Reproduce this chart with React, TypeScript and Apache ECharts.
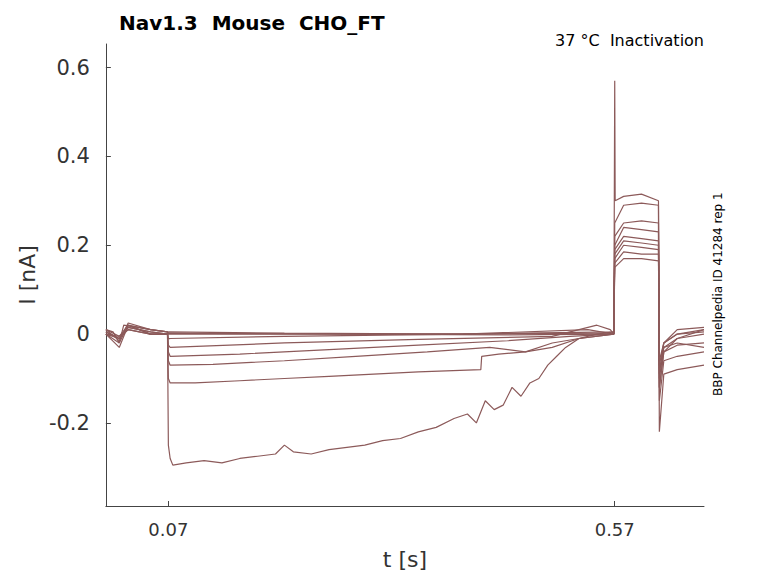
import { useEffect, useRef } from 'react';
import * as echarts from 'echarts';

// each trace: [t (s), I (nA)]
const trace1: [number, number][] = [
  [0, 0.01], [0.008, 0.005], [0.015, -0.02], [0.02, 0.02], [0.035, 0.015], [0.05, 0.01], [0.069, 0.005],
  [0.07, -0.25], [0.072, -0.28], [0.075, -0.295], [0.09, -0.29], [0.11, -0.285], [0.13, -0.29],
  [0.15, -0.28], [0.17, -0.275], [0.19, -0.27], [0.2, -0.25], [0.21, -0.265], [0.23, -0.27],
  [0.25, -0.26], [0.27, -0.255], [0.29, -0.25], [0.31, -0.24], [0.33, -0.235], [0.35, -0.22],
  [0.37, -0.21], [0.39, -0.19], [0.405, -0.18], [0.415, -0.2], [0.425, -0.15], [0.435, -0.17],
  [0.445, -0.16], [0.455, -0.12], [0.465, -0.14], [0.475, -0.11], [0.485, -0.1], [0.495, -0.07],
  [0.505, -0.05], [0.515, -0.03], [0.53, -0.01], [0.55, 0.0], [0.569, 0.005],
  [0.57, 0.57], [0.5705, 0.3], [0.58, 0.31], [0.6, 0.315], [0.619, 0.3],
  [0.62, -0.12], [0.625, -0.04], [0.64, -0.01], [0.67, 0.01],
];
const trace2: [number, number][] = [
  [0, 0.0], [0.015, -0.03], [0.025, 0.02], [0.05, 0.0], [0.069, 0.0],
  [0.07, -0.1], [0.072, -0.11], [0.1, -0.11], [0.15, -0.105], [0.2, -0.1], [0.25, -0.095],
  [0.3, -0.09], [0.35, -0.085], [0.42, -0.08], [0.421, -0.05], [0.44, -0.045], [0.47, -0.04],
  [0.5, -0.03], [0.53, -0.01], [0.569, 0.0],
  [0.57, 0.25], [0.58, 0.29], [0.6, 0.295], [0.619, 0.29],
  [0.62, -0.22], [0.625, -0.09], [0.64, -0.08], [0.67, -0.07],
];
const trace3: [number, number][] = [
  [0, 0.01], [0.015, -0.015], [0.025, 0.025], [0.05, 0.01], [0.069, 0.005],
  [0.07, -0.06], [0.072, -0.07], [0.12, -0.068], [0.2, -0.06], [0.28, -0.05], [0.36, -0.04],
  [0.43, -0.03], [0.47, -0.04], [0.5, -0.02], [0.53, -0.01], [0.569, 0.0],
  [0.57, 0.22], [0.58, 0.25], [0.6, 0.255], [0.619, 0.25],
  [0.62, -0.15], [0.625, -0.06], [0.64, -0.05], [0.67, -0.04],
];
const trace4: [number, number][] = [
  [0, 0.0], [0.015, -0.02], [0.025, 0.02], [0.05, 0.0], [0.069, 0.0],
  [0.07, -0.04], [0.072, -0.05], [0.15, -0.045], [0.25, -0.035], [0.35, -0.025], [0.45, -0.015],
  [0.52, -0.005], [0.569, 0.0],
  [0.57, 0.2], [0.58, 0.24], [0.6, 0.235], [0.619, 0.23],
  [0.62, -0.12], [0.625, -0.04], [0.64, -0.025], [0.67, -0.02],
];
const trace5: [number, number][] = [
  [0, 0.005], [0.015, -0.01], [0.025, 0.015], [0.05, 0.005], [0.069, 0.0],
  [0.07, -0.025], [0.072, -0.03], [0.2, -0.02], [0.35, -0.012], [0.5, -0.005], [0.55, 0.02],
  [0.565, 0.01], [0.569, 0.0],
  [0.57, 0.19], [0.58, 0.22], [0.6, 0.215], [0.619, 0.21],
  [0.62, -0.1], [0.625, -0.03], [0.64, -0.01], [0.67, 0.0],
];
const trace6: [number, number][] = [
  [0, 0.01], [0.015, -0.005], [0.025, 0.02], [0.05, 0.01], [0.069, 0.005],
  [0.07, -0.01], [0.072, -0.01], [0.2, -0.005], [0.4, 0.0], [0.54, 0.01], [0.569, 0.0],
  [0.57, 0.18], [0.58, 0.21], [0.6, 0.205], [0.619, 0.2],
  [0.62, -0.09], [0.625, -0.02], [0.64, 0.0], [0.67, 0.01],
];
const trace7: [number, number][] = [
  [0, 0.0], [0.015, -0.01], [0.025, 0.01], [0.05, 0.0], [0.069, 0.0],
  [0.07, 0.005], [0.2, 0.002], [0.4, 0.0], [0.569, 0.005],
  [0.57, 0.17], [0.58, 0.2], [0.6, 0.195], [0.619, 0.19],
  [0.62, -0.08], [0.625, -0.03], [0.64, -0.02], [0.67, -0.03],
];
const trace8: [number, number][] = [
  [0, 0.005], [0.015, -0.01], [0.025, 0.015], [0.05, 0.005], [0.069, 0.0],
  [0.07, 0.0], [0.25, 0.0], [0.45, -0.002], [0.569, 0.0],
  [0.57, 0.16], [0.58, 0.185], [0.6, 0.18], [0.619, 0.18],
  [0.62, -0.07], [0.625, -0.02], [0.64, 0.01], [0.67, 0.015],
];
const trace9: [number, number][] = [
  [0, 0.0], [0.015, -0.005], [0.025, 0.01], [0.05, 0.0], [0.069, 0.0],
  [0.07, 0.002], [0.3, 0.0], [0.569, 0.002],
  [0.57, 0.15], [0.58, 0.17], [0.6, 0.17], [0.619, 0.165],
  [0.62, -0.06], [0.625, -0.02], [0.64, 0.0], [0.67, 0.005],
];
const traces = [trace1, trace2, trace3, trace4, trace5, trace6, trace7, trace8, trace9];

const xTicks = [0.07, 0.57];
const yTicks = [-0.2, 0, 0.2, 0.4, 0.6];
const lineColor = '#8c5a5a';

export default function App() {
  const divRef = useRef<HTMLDivElement>(null);

  useEffect(() => {
    if (!divRef.current) return;
    const chart = echarts.init(divRef.current, null, { renderer: 'svg' });
    chart.setOption({
      animation: false,
      backgroundColor: '#fff',
      title: {
        text: 'Nav1.3  Mouse  CHO_FT',
        left: 106,
        top: 0,
        textStyle: { fontFamily: 'DejaVu Sans', fontSize: 20, fontWeight: 'bold', color: '#000' },
      },
      graphic: [
        {
          type: 'text', right: 66, top: 24,
          style: { text: '37 °C  Inactivation', font: '16px "DejaVu Sans"', fill: '#000' },
        },
        {
          type: 'text', x: 704, y: 388, rotation: Math.PI / 2,
          style: { text: 'BBP Channelpedia ID 41284 rep 1', font: '12px "DejaVu Sans"', fill: '#000' },
        },
      ],
      grid: { left: 93, right: 66, top: 36, bottom: 63 },
      xAxis: {
        type: 'value', min: 0, max: 0.67,
        name: 't [s]', nameLocation: 'middle', nameGap: 42,
        nameTextStyle: { fontFamily: 'DejaVu Sans', fontSize: 22, color: '#333' },
        axisLine: { onZero: false, lineStyle: { color: '#444' } },
        axisTick: { inside: true, customValues: xTicks, lineStyle: { color: '#444' } },
        axisLabel: {
          customValues: xTicks, margin: 14,
          fontFamily: 'DejaVu Sans', fontSize: 18, color: '#333',
          formatter: (v: number) => v.toFixed(2),
        },
        splitLine: { show: false },
      },
      yAxis: {
        type: 'value', min: -0.387, max: 0.653,
        name: 'I [nA]', nameLocation: 'middle', nameGap: 62,
        nameTextStyle: { fontFamily: 'DejaVu Sans', fontSize: 22, color: '#333' },
        axisLine: { show: true, onZero: false, lineStyle: { color: '#444' } },
        axisTick: { inside: true, customValues: yTicks, lineStyle: { color: '#444' } },
        axisLabel: {
          customValues: yTicks, margin: 16,
          fontFamily: 'DejaVu Sans', fontSize: 21, color: '#333',
          formatter: (v: number) => (Math.abs(v) < 1e-9 ? '0' : String(Math.round(v * 10) / 10)),
        },
        splitLine: { show: false },
      },
      series: traces.map((d) => ({
        type: 'line',
        data: d,
        showSymbol: false,
        lineStyle: { color: lineColor, width: 1.2 },
      })),
    });
    return () => chart.dispose();
  }, []);

  return <div ref={divRef} style={{ width: 762, height: 567 }} />;
}
